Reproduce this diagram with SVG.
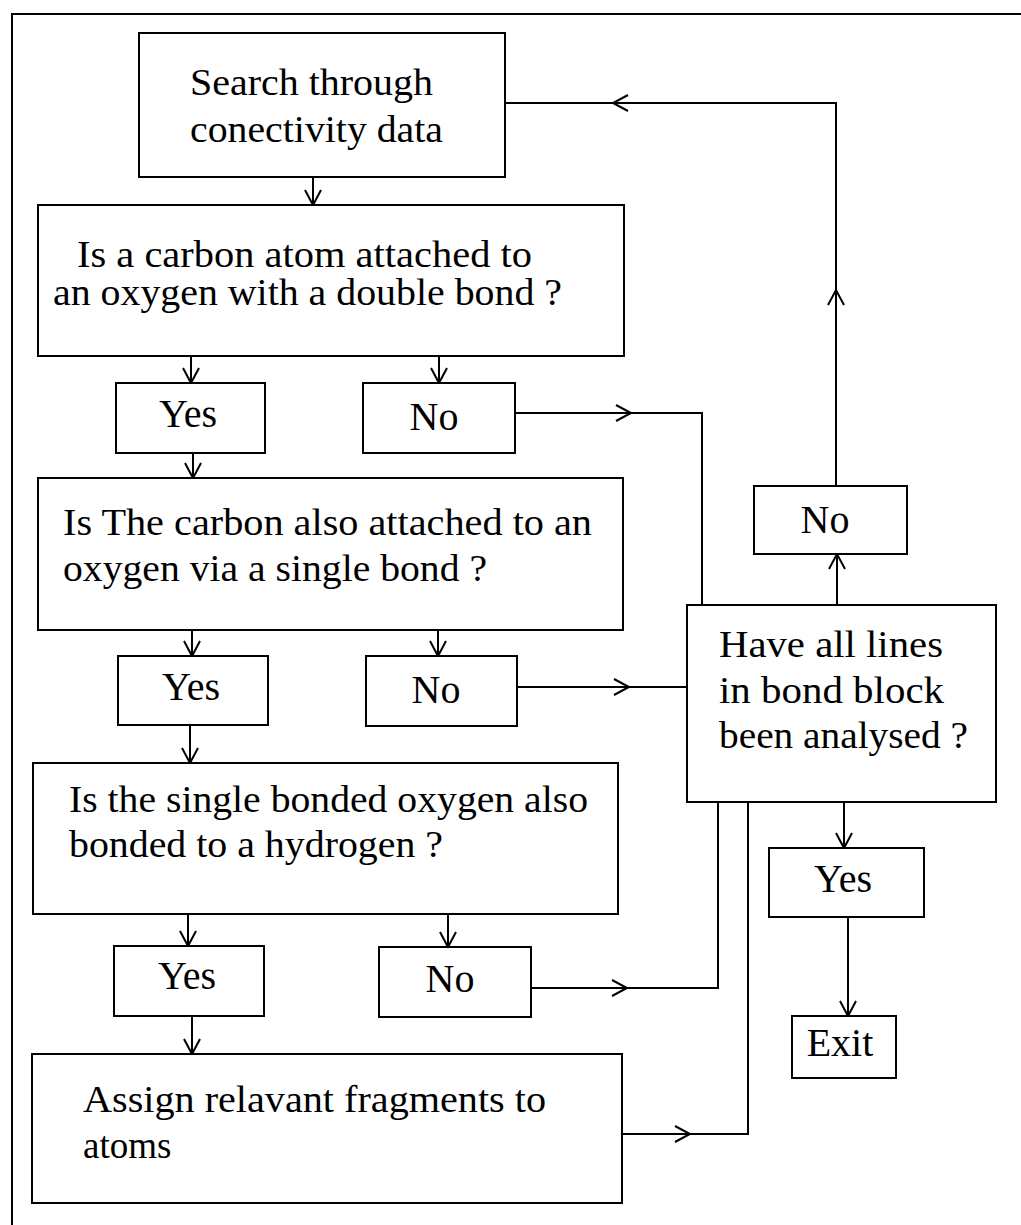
<svg xmlns="http://www.w3.org/2000/svg" xmlns:xlink="http://www.w3.org/1999/xlink" width="1021" height="1225" viewBox="0 0 1021 1225">
<style>
.box{fill:#fff;stroke:#000;stroke-width:2}
.ln{fill:none;stroke:#000;stroke-width:2}
.t{font-family:"Liberation Serif","Times New Roman",serif;font-size:37px;fill:#000}
.l{font-family:"Liberation Serif","Times New Roman",serif;font-size:40px;fill:#000;text-anchor:middle}
</style>
<defs>
<path id="ah" d="M-15,-8 L0,0 L-15,8" fill="none" stroke="#000" stroke-width="2"/>
</defs>
<rect width="1021" height="1225" fill="#fff"/>
<path class="ln" d="M12,1225 V14 H1021"/>
<g id="connectors">
<path class="ln" d="M313,177 V205"/><use xlink:href="#ah" transform="translate(313,205) rotate(90)"/>
<path class="ln" d="M191,356 V383"/><use xlink:href="#ah" transform="translate(191,383) rotate(90)"/>
<path class="ln" d="M439,356 V383"/><use xlink:href="#ah" transform="translate(439,383) rotate(90)"/>
<path class="ln" d="M193,453 V478"/><use xlink:href="#ah" transform="translate(193,478) rotate(90)"/>
<path class="ln" d="M515,413 H702 V605"/><use xlink:href="#ah" transform="translate(631,413)"/>
<path class="ln" d="M192,630 V656"/><use xlink:href="#ah" transform="translate(192,656) rotate(90)"/>
<path class="ln" d="M438,630 V656"/><use xlink:href="#ah" transform="translate(438,656) rotate(90)"/>
<path class="ln" d="M190,725 V763"/><use xlink:href="#ah" transform="translate(190,763) rotate(90)"/>
<path class="ln" d="M517,687 H687"/><use xlink:href="#ah" transform="translate(629,687)"/>
<path class="ln" d="M188,914 V946"/><use xlink:href="#ah" transform="translate(188,946) rotate(90)"/>
<path class="ln" d="M448,914 V947"/><use xlink:href="#ah" transform="translate(448,947) rotate(90)"/>
<path class="ln" d="M192,1016 V1054"/><use xlink:href="#ah" transform="translate(192,1054) rotate(90)"/>
<path class="ln" d="M531,988 H718 V802"/><use xlink:href="#ah" transform="translate(627,988)"/>
<path class="ln" d="M622,1134 H748 V802"/><use xlink:href="#ah" transform="translate(690,1134)"/>
<path class="ln" d="M837,605 V554"/><use xlink:href="#ah" transform="translate(837,554) rotate(-90)"/>
<path class="ln" d="M836,486 V103 H505"/><use xlink:href="#ah" transform="translate(836,290) rotate(-90)"/><use xlink:href="#ah" transform="translate(613,103) rotate(180)"/>
<path class="ln" d="M844,802 V848"/><use xlink:href="#ah" transform="translate(844,848) rotate(90)"/>
<path class="ln" d="M848,917 V1016"/><use xlink:href="#ah" transform="translate(848,1016) rotate(90)"/>
</g>
<g id="search">
<rect class="box" x="139" y="33" width="366" height="144"/>
<text class="t" x="190" y="95" textLength="243" lengthAdjust="spacingAndGlyphs">Search through</text>
<text class="t" x="190" y="142" textLength="253" lengthAdjust="spacingAndGlyphs">conectivity data</text>
</g>
<g id="q1">
<rect class="box" x="38" y="205" width="586" height="151"/>
<text class="t" x="77" y="267" textLength="455" lengthAdjust="spacingAndGlyphs">Is a carbon atom attached to</text>
<text class="t" x="53" y="305" textLength="509" lengthAdjust="spacingAndGlyphs">an oxygen with a double bond ?</text>
</g>
<g id="yes1"><rect class="box" x="116" y="383" width="149" height="70"/><text class="l" x="188" y="427">Yes</text></g>
<g id="no1"><rect class="box" x="363" y="383" width="152" height="70"/><text class="l" x="434" y="430">No</text></g>
<g id="q2">
<rect class="box" x="38" y="478" width="585" height="152"/>
<text class="t" x="63" y="535" textLength="529" lengthAdjust="spacingAndGlyphs">Is The carbon also attached to an</text>
<text class="t" x="63" y="581" textLength="424" lengthAdjust="spacingAndGlyphs">oxygen via a single bond ?</text>
</g>
<g id="yes2"><rect class="box" x="118" y="656" width="150" height="69"/><text class="l" x="191" y="700">Yes</text></g>
<g id="no2"><rect class="box" x="366" y="656" width="151" height="70"/><text class="l" x="436" y="703">No</text></g>
<g id="q3">
<rect class="box" x="33" y="763" width="585" height="151"/>
<text class="t" x="69" y="812" textLength="519" lengthAdjust="spacingAndGlyphs">Is the single bonded oxygen also</text>
<text class="t" x="69" y="857" textLength="374" lengthAdjust="spacingAndGlyphs">bonded to a hydrogen ?</text>
</g>
<g id="yes3"><rect class="box" x="114" y="946" width="150" height="70"/><text class="l" x="187" y="989">Yes</text></g>
<g id="no3"><rect class="box" x="379" y="947" width="152" height="70"/><text class="l" x="450" y="992">No</text></g>
<g id="assign">
<rect class="box" x="32" y="1054" width="590" height="149"/>
<text class="t" x="83" y="1112" textLength="463" lengthAdjust="spacingAndGlyphs">Assign relavant fragments to</text>
<text class="t" x="83" y="1158">atoms</text>
</g>
<g id="q4">
<rect class="box" x="687" y="605" width="309" height="197"/>
<text class="t" x="719" y="657" textLength="224" lengthAdjust="spacingAndGlyphs">Have all lines</text>
<text class="t" x="719" y="703" textLength="225" lengthAdjust="spacingAndGlyphs">in bond block</text>
<text class="t" x="719" y="748" textLength="249" lengthAdjust="spacingAndGlyphs">been analysed ?</text>
</g>
<g id="noR"><rect class="box" x="754" y="486" width="153" height="68"/><text class="l" x="825" y="533">No</text></g>
<g id="yesR"><rect class="box" x="769" y="848" width="155" height="69"/><text class="l" x="843" y="892">Yes</text></g>
<g id="exit"><rect class="box" x="792" y="1016" width="104" height="62"/><text class="l" x="840" y="1056">Exit</text></g>
</svg>
